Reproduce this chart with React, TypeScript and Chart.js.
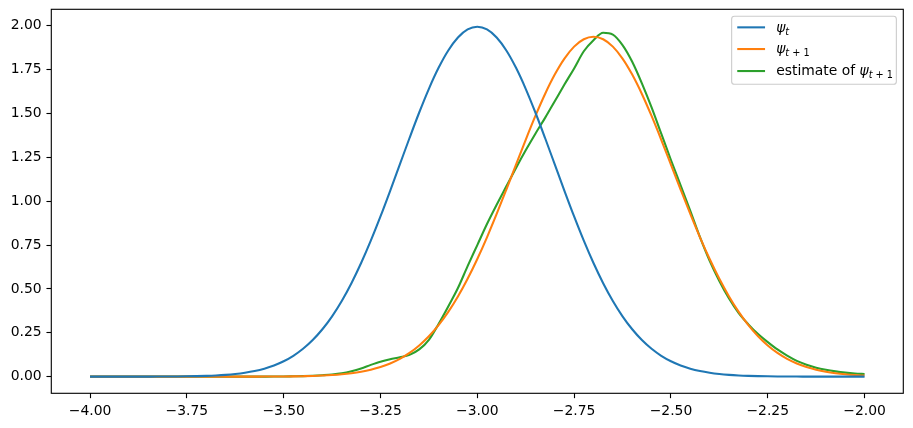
import React, { useEffect, useRef } from "react";
import { Chart, registerables } from "chart.js";

Chart.register(...registerables);

const xValues = [
  -4.000, -3.975, -3.950, -3.925, -3.900, -3.875, -3.850, -3.825, -3.800, -3.775,
  -3.750, -3.725, -3.700, -3.675, -3.650, -3.625, -3.600, -3.575, -3.550, -3.525,
  -3.500, -3.475, -3.450, -3.425, -3.400, -3.375, -3.350, -3.325, -3.300, -3.275,
  -3.250, -3.225, -3.200, -3.175, -3.150, -3.125, -3.100, -3.075, -3.050, -3.025,
  -3.000, -2.975, -2.950, -2.925, -2.900, -2.875, -2.850, -2.825, -2.800, -2.775,
  -2.750, -2.725, -2.700, -2.675, -2.650, -2.625, -2.600, -2.575, -2.550, -2.525,
  -2.500, -2.475, -2.450, -2.425, -2.400, -2.375, -2.350, -2.325, -2.300, -2.275,
  -2.250, -2.225, -2.200, -2.175, -2.150, -2.125, -2.100, -2.075, -2.050, -2.025,
  -2.000,
];

const psiT = [
  0, 0, 0, 0, 0.0001, 0.0001, 0.0002, 0.0004, 0.0007, 0.0011,
  0.0018, 0.0028, 0.0044, 0.0067, 0.0101, 0.0151, 0.0222, 0.0320, 0.0455, 0.0636,
  0.0876, 0.1188, 0.1587, 0.2086, 0.2700, 0.3439, 0.4314, 0.5327, 0.6476, 0.7751,
  0.9132, 1.0594, 1.2099, 1.3603, 1.5057, 1.6408, 1.7603, 1.8593, 1.9333, 1.9792,
  1.9947, 1.9792, 1.9333, 1.8593, 1.7603, 1.6408, 1.5057, 1.3603, 1.2099, 1.0594,
  0.9132, 0.7751, 0.6476, 0.5327, 0.4314, 0.3439, 0.2700, 0.2086, 0.1587, 0.1188,
  0.0876, 0.0636, 0.0455, 0.0320, 0.0222, 0.0151, 0.0101, 0.0067, 0.0044, 0.0028,
  0.0018, 0.0011, 0.0007, 0.0004, 0.0002, 0.0001, 0.0001, 0, 0, 0,
  0,
];

const psiNext = [
  0, 0, 0, 0, 0, 0, 0, 0, 0, 0,
  0, 0, 0, 0, 0, 0.0001, 0.0001, 0.0002, 0.0004, 0.0006,
  0.0010, 0.0016, 0.0026, 0.0039, 0.0060, 0.0090, 0.0133, 0.0194, 0.0278, 0.0393,
  0.0547, 0.0751, 0.1016, 0.1354, 0.1779, 0.2303, 0.2936, 0.3690, 0.4569, 0.5576,
  0.6704, 0.7942, 0.9272, 1.0666, 1.2089, 1.3502, 1.4860, 1.6115, 1.7220, 1.8132,
  1.8812, 1.9233, 1.9375, 1.9233, 1.8812, 1.8132, 1.7220, 1.6115, 1.4860, 1.3502,
  1.2089, 1.0666, 0.9272, 0.7942, 0.6704, 0.5576, 0.4569, 0.3690, 0.2936, 0.2303,
  0.1779, 0.1354, 0.1016, 0.0751, 0.0547, 0.0393, 0.0278, 0.0194, 0.0133, 0.0090,
  0.0060,
];

const psiEstimate = [
  0, 0, 0, 0, 0, 0, 0, 0, 0, 0,
  0, 0, 0, 0, 0, 0, 0, 0.0001, 0.0002, 0.0005,
  0.001, 0.002, 0.003, 0.005, 0.008, 0.012, 0.019, 0.031, 0.047, 0.067,
  0.085, 0.099, 0.110, 0.124, 0.155, 0.210, 0.300, 0.400, 0.505, 0.630,
  0.750, 0.870, 0.980, 1.085, 1.190, 1.290, 1.385, 1.475, 1.570, 1.665,
  1.757, 1.855, 1.918, 1.960, 1.950, 1.890, 1.795, 1.672, 1.535, 1.385,
  1.235, 1.090, 0.945, 0.795, 0.660, 0.545, 0.445, 0.362, 0.298, 0.243,
  0.197, 0.155, 0.120, 0.090, 0.068, 0.051, 0.039, 0.030, 0.023, 0.018,
  0.015,
];

const xTicks = [-4.0, -3.75, -3.5, -3.25, -3.0, -2.75, -2.5, -2.25, -2.0];
const yTicks = [0, 0.25, 0.5, 0.75, 1.0, 1.25, 1.5, 1.75, 2.0];

const COLORS = ["#1f77b4", "#ff7f0e", "#2ca02c"];
const FONT = "DejaVu Sans";
const FS = 13.9;
const LW = 2.08;

type Part = { t: string; it?: boolean; sub?: boolean };

const legendItems: Part[][] = [
  [{ t: "ψ", it: true }, { t: "t", it: true, sub: true }],
  [
    { t: "ψ", it: true },
    { t: "t", it: true, sub: true },
    { t: " + ", sub: true },
    { t: "1", sub: true },
  ],
  [
    { t: "estimate of " },
    { t: "ψ", it: true },
    { t: "t", it: true, sub: true },
    { t: " + ", sub: true },
    { t: "1", sub: true },
  ],
];

function drawParts(ctx: CanvasRenderingContext2D, x: number, y: number, parts: Part[]) {
  let cx = x;
  for (const p of parts) {
    const size = p.sub ? FS * 0.7 : FS;
    ctx.font = `${p.it ? "italic " : ""}${size}px "${FONT}"`;
    ctx.fillText(p.t, cx, p.sub ? y + 3.2 : y);
    cx += ctx.measureText(p.t).width;
  }
}

const framePlugin = {
  id: "mplFrame",
  afterDraw(chart: any) {
    const { ctx, chartArea: a } = chart;
    ctx.save();
    ctx.strokeStyle = "#000";
    ctx.lineWidth = 1.11;
    ctx.strokeRect(a.left, a.top, a.right - a.left, a.bottom - a.top);

    // legend
    const pad = 6.95;
    const w = 164.7;
    const h = 68;
    const bx = a.right - pad - w;
    const by = a.top + pad;
    ctx.beginPath();
    if ((ctx as any).roundRect) (ctx as any).roundRect(bx, by, w, h, 2.8);
    else ctx.rect(bx, by, w, h);
    ctx.fillStyle = "rgba(255,255,255,0.8)";
    ctx.fill();
    ctx.strokeStyle = "#cccccc";
    ctx.lineWidth = 1.11;
    ctx.stroke();

    const rowYs = [by + 11.1, by + 32.8, by + 54.8];
    legendItems.forEach((parts, i) => {
      const ry = rowYs[i];
      ctx.beginPath();
      ctx.strokeStyle = COLORS[i];
      ctx.lineWidth = LW;
      ctx.moveTo(bx + 5.6, ry);
      ctx.lineTo(bx + 5.6 + 27.8, ry);
      ctx.stroke();
      ctx.fillStyle = "#000";
      ctx.textBaseline = "alphabetic";
      ctx.textAlign = "left";
      drawParts(ctx, bx + 5.6 + 27.8 + 11.1, ry + 4.2, parts);
    });
    ctx.restore();
  },
};

function fmt(v: number) {
  const s = Math.abs(v).toFixed(2);
  return v < -1e-9 ? "\u2212" + s : s;
}

export default function App() {
  const ref = useRef<HTMLCanvasElement | null>(null);

  useEffect(() => {
    document.body.style.margin = "0";
    const canvas = ref.current;
    if (!canvas) return;
    Chart.defaults.font.family = FONT;
    Chart.defaults.font.size = FS;
    Chart.defaults.color = "#000";

    const mk = (ys: number[]) => xValues.map((x, i) => ({ x, y: ys[i] }));
    const names = ["ψt", "ψt+1", "estimate of ψt+1"];
    const series = [psiT, psiNext, psiEstimate];

    const chart = new Chart(canvas, {
      type: "line",
      data: {
        datasets: series.map((ys, i) => ({
          label: names[i],
          data: mk(ys),
          borderColor: COLORS[i],
          backgroundColor: COLORS[i],
          borderWidth: LW,
          pointRadius: 0,
          pointHoverRadius: 0,
          cubicInterpolationMode: "monotone" as const,
          fill: false,
        })),
      },
      options: {
        animation: false,
        responsive: false,
        events: [],
        layout: { padding: { top: 9.3, right: 9.7, left: 0, bottom: 0 } },
        plugins: { legend: { display: false }, tooltip: { enabled: false } },
        scales: {
          x: {
            type: "linear",
            min: -4.1,
            max: -1.9,
            afterBuildTicks: (scale: any) => {
              scale.ticks = xTicks.map((v) => ({ value: v }));
            },
            afterFit: (scale: any) => {
              scale.height = 34.7;
              scale.paddingLeft = 0;
              scale.paddingRight = 0;
            },
            border: { display: false },
            grid: {
              display: true,
              drawOnChartArea: false,
              drawTicks: true,
              tickLength: 4.86,
              tickWidth: 1.11,
              tickColor: "#000",
            },
            ticks: {
              autoSkip: false,
              maxRotation: 0,
              minRotation: 0,
              padding: 4.86,
              color: "#000",
              font: { family: FONT, size: FS },
              callback: (v: any) => fmt(Number(v)),
            },
          },
          y: {
            type: "linear",
            min: -0.095,
            max: 2.094,
            afterBuildTicks: (scale: any) => {
              scale.ticks = yTicks.map((v) => ({ value: v }));
            },
            afterFit: (scale: any) => {
              scale.width = 51.3;
              scale.paddingTop = 0;
              scale.paddingBottom = 0;
            },
            border: { display: false },
            grid: {
              display: true,
              drawOnChartArea: false,
              drawTicks: true,
              tickLength: 4.86,
              tickWidth: 1.11,
              tickColor: "#000",
            },
            ticks: {
              autoSkip: false,
              padding: 4.86,
              color: "#000",
              font: { family: FONT, size: FS },
              callback: (v: any) => fmt(Number(v)),
            },
          },
        },
      },
      plugins: [framePlugin],
    });
    return () => chart.destroy();
  }, []);

  return (
    <div style={{ width: 913, height: 428, background: "#fff" }}>
      <canvas ref={ref} width={913} height={428} style={{ display: "block" }} />
    </div>
  );
}
